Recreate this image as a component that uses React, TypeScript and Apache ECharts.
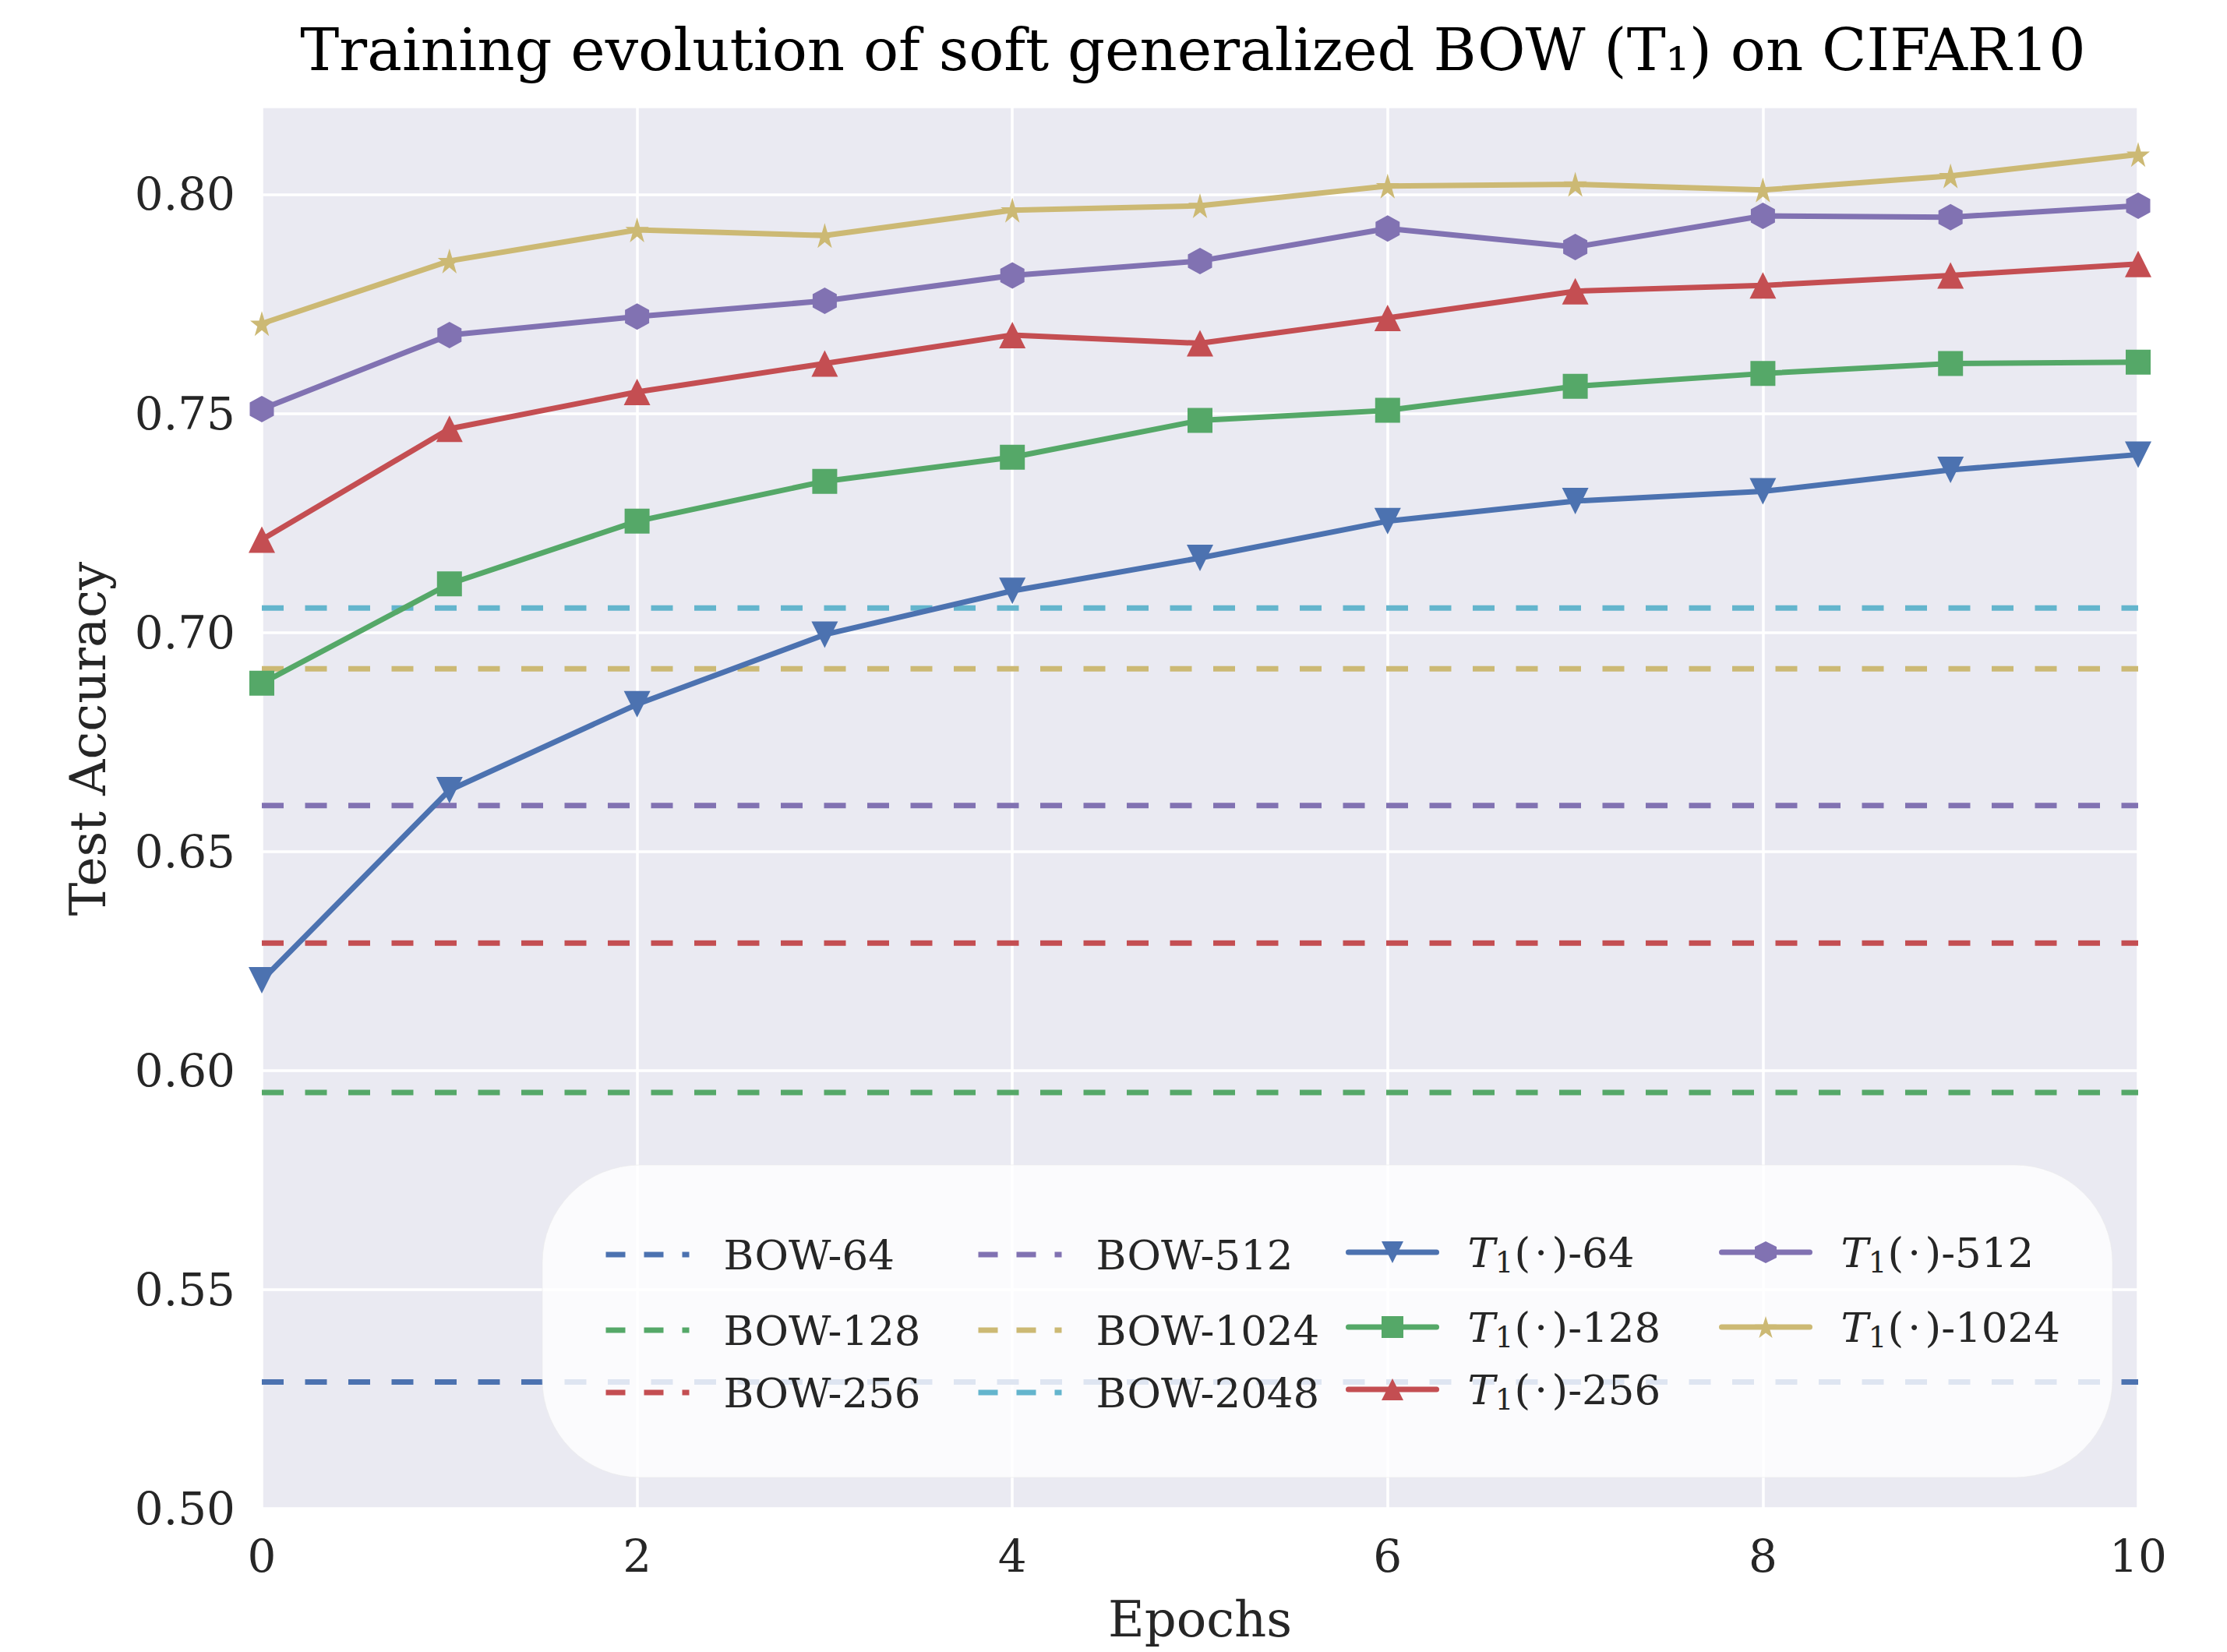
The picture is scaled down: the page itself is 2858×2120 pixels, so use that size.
import React, { useEffect, useRef } from "react";
import * as echarts from "echarts";

const epochs = [0, 1, 2, 3, 4, 5, 6, 7, 8, 9, 10];
const t1_64 = [0.6206, 0.664, 0.6836, 0.6995, 0.7095, 0.717, 0.7254, 0.730, 0.7322, 0.7371, 0.7406];
const t1_128 = [0.6884, 0.7111, 0.7254, 0.7345, 0.740, 0.7484, 0.7507, 0.7562, 0.7591, 0.7614, 0.7617];
const t1_256 = [0.7212, 0.7465, 0.7549, 0.7614, 0.7679, 0.766, 0.7718, 0.7779, 0.7792, 0.7815, 0.7841];
const t1_512 = [0.751, 0.7679, 0.7721, 0.7757, 0.7815, 0.7848, 0.7922, 0.788, 0.7951, 0.7948, 0.7974];
const t1_1024 = [0.7705, 0.7848, 0.7919, 0.7906, 0.7964, 0.7974, 0.8019, 0.8023, 0.801, 0.8042, 0.8091];

const bowNames = ["BOW-64", "BOW-128", "BOW-256", "BOW-512", "BOW-1024", "BOW-2048"];
const bowValues = [0.5289, 0.595, 0.6291, 0.6605, 0.6917, 0.7056];
const t1Names = ["T1(·)-64", "T1(·)-128", "T1(·)-256", "T1(·)-512", "T1(·)-1024"];
const t1Suffix = ["64", "128", "256", "512", "1024"];
const t1Data = [t1_64, t1_128, t1_256, t1_512, t1_1024];

const xTicks = [0, 2, 4, 6, 8, 10];

const COLORS = ["#4C72B0", "#55A868", "#C44E52", "#8172B2", "#CCB974", "#64B5CD"];
const FONT = "DejaVu Serif";

const HEX = "path://M0,-1 L0.866,-0.5 L0.866,0.5 L0,1 L-0.866,0.5 L-0.866,-0.5 Z";
const STAR =
  "path://M0,-1 L0.2245,-0.309 L0.9511,-0.309 L0.3633,0.118 L0.5878,0.809 L0,0.382 L-0.5878,0.809 L-0.3633,0.118 L-0.9511,-0.309 L-0.2245,-0.309 Z";

const t1Symbols = ["triangle", "rect", "triangle", HEX, STAR];
const t1Rotate = [180, 0, 0, 0, 0];
const t1Sizes: any[] = [34, 32, 34, [31, 34], [30, 32]];

export default function App() {
  const ref = useRef<HTMLDivElement>(null);
  useEffect(() => {
    if (!ref.current) return;
    const chart = echarts.init(ref.current, null, { renderer: "svg" });

    const series: any[] = [];
    bowNames.forEach((n, i) => {
      series.push({
        name: n,
        type: "line",
        data: [
          [xTicks[0], bowValues[i]],
          [xTicks[xTicks.length - 1], bowValues[i]],
        ],
        symbol: "none",
        z: 2,
        lineStyle: { color: COLORS[i], width: 7, type: [28, 27.5], cap: "butt" },
        itemStyle: { color: COLORS[i] },
      });
    });
    t1Names.forEach((n, i) => {
      series.push({
        name: n,
        type: "line",
        data: epochs.map((e, k) => [e, t1Data[i][k]]),
        symbol: t1Symbols[i],
        symbolRotate: t1Rotate[i],
        symbolSize: t1Sizes[i],
        showAllSymbol: true,
        z: 3,
        lineStyle: { color: COLORS[i], width: 7, cap: "round", join: "round" },
        itemStyle: { color: COLORS[i] },
      });
    });

    const rowY = [
      [1601, 1698, 1778],
      [1601, 1698, 1778],
      [1598, 1694, 1774],
      [1598, 1694, 1774],
    ];
    const colX = [774, 1252, 1727, 2206];
    const legendItems = [
      [bowNames[0], bowNames[1], bowNames[2]],
      [bowNames[3], bowNames[4], bowNames[5]],
      [t1Names[0], t1Names[1], t1Names[2]],
      [t1Names[3], t1Names[4]],
    ];
    const itemH = 35;
    const HS = "\u200A";
    const legends: any[] = [];
    legendItems.forEach((col, c) => {
      const isBow = c < 2;
      col.forEach((name, r) => {
        const leg: any = {
          data: [name],
          left: colX[c],
          top: rowY[c][r] - itemH / 2,
          orient: "vertical",
          padding: 0,
          itemWidth: isBow ? 107 : 113,
          itemHeight: itemH,
          z: 20,
          selectedMode: false,
          formatter: (nm: string) => {
            const idx = t1Names.indexOf(nm);
            if (idx >= 0)
              return "{i|T}{s|1}{n|(" + HS + "·" + HS + ")-" + t1Suffix[idx] + "}";
            return "{n|" + nm + "}";
          },
          textStyle: {
            fontFamily: FONT,
            fontSize: 53,
            color: "#262626",
            padding: [0, 0, 0, isBow ? 39 : 35],
            rich: {
              i: { fontFamily: FONT, fontSize: 53, fontStyle: "italic", color: "#262626" },
              s: { fontFamily: FONT, fontSize: 37, color: "#262626", padding: [26, 1, 0, 0] },
              n: { fontFamily: FONT, fontSize: 53, color: "#262626" },
            },
          },
        };
        if (isBow) {
          leg.itemStyle = { opacity: 0 };
          leg.lineStyle = { type: [25, 24], width: 7, cap: "butt" };
        } else {
          leg.lineStyle = { width: 7, cap: "round" };
        }
        legends.push(leg);
      });
    });

    chart.setOption({
      animation: false,
      backgroundColor: "#ffffff",
      grid: {
        left: 336,
        right: 114,
        top: 137,
        bottom: 184,
        show: true,
        backgroundColor: "#EAEAF2",
        borderWidth: 0,
        containLabel: false,
      },
      xAxis: {
        type: "value",
        min: 0,
        max: 10,
        interval: 2,
        axisLine: { show: false },
        axisTick: { show: false },
        splitLine: { show: true, lineStyle: { color: "#ffffff", width: 3.5 } },
        axisLabel: { fontFamily: FONT, fontSize: 58, color: "#262626", margin: 32 },
      },
      yAxis: {
        type: "value",
        min: 0.5,
        max: 0.82,
        interval: 0.05,
        axisLine: { show: false },
        axisTick: { show: false },
        splitLine: { show: true, lineStyle: { color: "#ffffff", width: 3.5 } },
        axisLabel: {
          fontFamily: FONT,
          fontSize: 58,
          color: "#262626",
          margin: 34,
          formatter: (v: number) => {
            const r = Math.round(v * 100) / 100;
            if (Math.abs(Math.round(r * 20) - r * 20) > 1e-6) return "";
            return r.toFixed(2);
          },
        },
      },
      legend: legends,
      graphic: [
        {
          type: "rect",
          z: 10,
          shape: { x: 696, y: 1495, width: 2015, height: 401, r: 125 },
          style: { fill: "rgba(255,255,255,0.82)", stroke: "rgba(235,235,235,0.6)", lineWidth: 1 },
        },
        {
          type: "text",
          z: 30,
          x: 1531,
          y: 64,
          style: {
            text: "Training evolution of soft generalized BOW (T₁) on CIFAR10",
            fontFamily: FONT,
            fontSize: 75,
            fill: "#000000",
            align: "center",
            verticalAlign: "middle",
          },
        },
        {
          type: "text",
          z: 30,
          x: 1540,
          y: 2078,
          style: {
            text: "Epochs",
            fontFamily: FONT,
            fontSize: 64,
            fill: "#262626",
            align: "center",
            verticalAlign: "middle",
          },
        },
        {
          type: "text",
          z: 30,
          x: 113,
          y: 948,
          rotation: Math.PI / 2,
          style: {
            text: "Test Accuracy",
            fontFamily: FONT,
            fontSize: 64,
            fill: "#262626",
            align: "center",
            verticalAlign: "middle",
          },
        },
      ],
      series,
    });
    return () => chart.dispose();
  }, []);
  return (
    <div
      ref={ref}
      style={{ position: "fixed", left: 0, top: 0, width: 2858, height: 2120 }}
    />
  );
}
